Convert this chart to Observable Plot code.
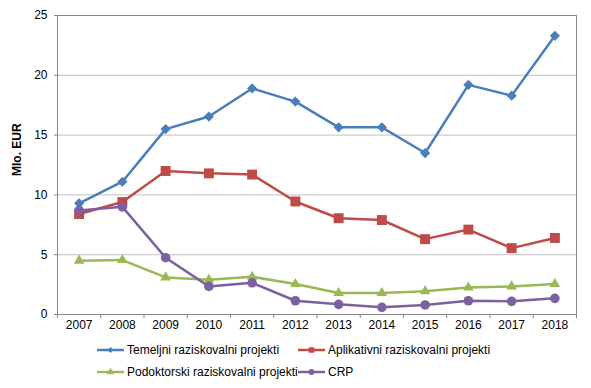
<!DOCTYPE html>
<html>
<head>
<meta charset="utf-8">
<script src="https://cdn.jsdelivr.net/npm/d3@7"></script>
<script src="https://cdn.jsdelivr.net/npm/@observablehq/plot@0.6"></script>
<style>
  html, body { margin: 0; padding: 0; background: #fff; }
  #wrap { position: relative; width: 591px; height: 388px; font-family: "Liberation Sans", Arial, sans-serif; }
  #legend { position: absolute; left: 0; top: 336px; width: 591px; height: 52px; font-size: 12px; color: #000; }
  .item { position: absolute; display: flex; align-items: center; height: 14px; white-space: nowrap; }
  .item svg { margin-right: 3px; }
</style>
</head>
<body>
<div id="wrap"><div id="chart"></div><div id="legend"></div></div>
<script>
const years = [2007, 2008, 2009, 2010, 2011, 2012, 2013, 2014, 2015, 2016, 2017, 2018];
const seriesNames = [
  "Temeljni raziskovalni projekti",
  "Aplikativni raziskovalni projekti",
  "Podoktorski raziskovalni projekti",
  "CRP"
];
const temeljni    = [9.3, 11.1, 15.5, 16.55, 18.9, 17.8, 15.65, 15.65, 13.5, 19.2, 18.3, 23.3];
const aplikativni = [8.4, 9.4, 12.0, 11.8, 11.7, 9.45, 8.05, 7.9, 6.3, 7.1, 5.55, 6.4];
const podoktorski = [4.5, 4.55, 3.1, 2.9, 3.15, 2.55, 1.8, 1.8, 1.95, 2.25, 2.35, 2.55];
const crp         = [8.7, 9.0, 4.75, 2.35, 2.65, 1.15, 0.85, 0.6, 0.8, 1.15, 1.1, 1.35];
const yTicks = [0, 5, 10, 15, 20, 25];
const yLabel = "Mlo. EUR";

const colors = ["#4a7ebb", "#be4b48", "#98b954", "#7d60a0"];
const symbols = ["diamond2", "square", "triangle", "circle"];
const radii = [4.6, 5.6, 3.9, 4.8];

const allValues = [temeljni, aplikativni, podoktorski, crp];
const tables = allValues.map((vals, i) => years.map((year, j) => ({year, value: vals[j], series: seriesNames[i]})));
const boundaries = [...years.map(y => y - 0.5), years[years.length - 1] + 0.5];

const chart = Plot.plot({
  width: 591,
  height: 336,
  marginLeft: 57,
  marginRight: 15,
  marginTop: 15,
  marginBottom: 22,
  style: { fontFamily: "'Liberation Sans', Arial, sans-serif", fontSize: "12px", color: "#000", background: "transparent" },
  x: { type: "linear", domain: [boundaries[0], boundaries[boundaries.length - 1]] },
  y: { domain: [0, 25] },
  marks: [
    Plot.gridY([5, 10, 15, 20], { stroke: "#c0c0c0", strokeOpacity: 1, strokeWidth: 1 }),
    Plot.frame({ stroke: "#868686", strokeWidth: 1 }),
    Plot.axisY(yTicks, { tickSize: 3, tickPadding: 7, label: null, stroke: "#868686" }),
    Plot.axisX(boundaries, { tickSize: 4, tickFormat: () => "", label: null, stroke: "#868686" }),
    Plot.axisX(years, { tickSize: 0, tickPadding: 6, tickFormat: "d", label: null }),
    ...tables.map((t, i) => Plot.line(t, { x: "year", y: "value", stroke: colors[i], strokeWidth: 2.5 })),
    ...tables.map((t, i) => Plot.dot(t, { x: "year", y: "value", fill: colors[i], stroke: "none", symbol: symbols[i], r: radii[i] })),
    Plot.text([yLabel], { frameAnchor: "left", dx: -40, dy: 11, rotate: -90, fontWeight: "bold", fontSize: 12, text: d => d })
  ]
});
document.getElementById("chart").appendChild(chart);

// Legend
const legend = document.getElementById("legend");
const legendPos = [[97, 7], [298, 7], [97, 29], [298, 29]];
const legendSymbols = [d3.symbolDiamond2, d3.symbolSquare, d3.symbolTriangle, d3.symbolCircle];
const legendSizes = [22, 30, 24, 26];
seriesNames.forEach((name, i) => {
  const div = document.createElement("div");
  div.className = "item";
  div.style.left = legendPos[i][0] + "px";
  div.style.top = legendPos[i][1] + "px";
  const path = d3.symbol(legendSymbols[i], legendSizes[i])();
  div.innerHTML = `<svg width="27" height="12"><line x1="0" x2="27" y1="6" y2="6" stroke="${colors[i]}" stroke-width="2.5"/><path d="${path}" transform="translate(13.5,6)" fill="${colors[i]}"/></svg><span>${name}</span>`;
  legend.appendChild(div);
});
</script>
</body>
</html>
